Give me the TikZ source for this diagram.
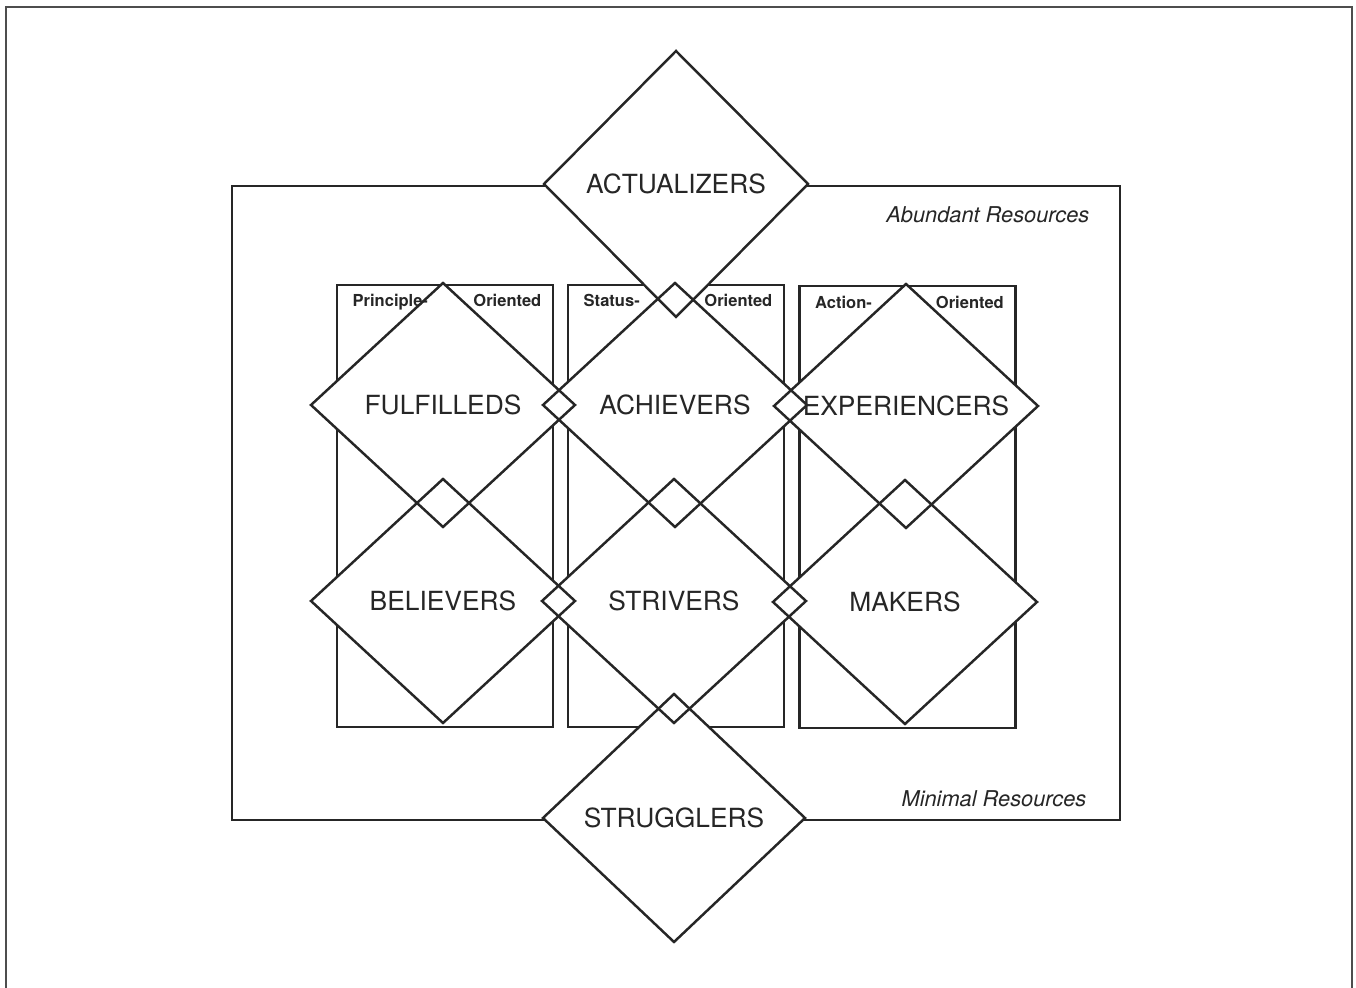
\documentclass[tikz,border=0pt]{standalone}
\usepackage{fontspec}
\setmainfont{TeX Gyre Heros}
\usetikzlibrary{shapes.geometric, positioning}
\definecolor{Ink}{HTML}{262626}
\definecolor{FrameGray}{HTML}{4D4D4D}
\tikzset{
  segment/.style={diamond, fill=white, inner sep=0pt, outer sep=0pt,
                  minimum width=2.64cm, minimum height=2.44cm, text=Ink,
                  font=\fontsize{7.5}{9}\selectfont},
  outline/.style={draw=Ink, line width=0.7pt, line join=miter},
  column/.style={draw=Ink, line width=0.6pt, inner sep=0pt, outer sep=0pt,
                 minimum width=2.16cm, minimum height=4.42cm},
  colnote/.style={text=Ink, inner sep=0pt, font=\fontsize{4.7}{5.5}\selectfont\bfseries},
  resnote/.style={text=Ink, inner sep=0pt, font=\fontsize{6.2}{7.5}\selectfont\itshape},
}
\begin{document}
\begin{tikzpicture}
\useasboundingbox (0,0) rectangle (13.56,-9.88);

% page frame, runs off the bottom edge
\draw[FrameGray, line width=0.6pt] (0.06,-10) |- (13.52,-0.07) -- (13.52,-10);

% resources box and the three orientation columns
\node[draw=Ink, line width=0.6pt, inner sep=0pt, outer sep=0pt,
      minimum width=8.88cm, minimum height=6.34cm] (resources) at (6.76,-5.03) {};
\node[column] (principle) at (4.45,-5.06) {};
\node[column] (status)    at (6.76,-5.06) {};
\node[column] (action)    at (9.075,-5.07) {};

% segments (white fill first, outlines afterwards so overlaps stay visible)
\node[segment, minimum height=2.66cm] (actualizers) at (6.76,-1.84) {ACTUALIZERS};
\node[segment] (fulfilleds)   at (4.43,-4.05) {FULFILLEDS};
\node[segment] (achievers)    at (6.75,-4.05) {ACHIEVERS};
\node[segment] (experiencers) at (9.06,-4.06) {EXPERIENCERS};
\node[segment] (believers)    at (4.43,-6.01) {BELIEVERS};
\node[segment] (strivers)     at (6.74,-6.01) {STRIVERS};
\node[segment] (makers)       at (9.05,-6.02) {MAKERS};
\node[segment, minimum width=2.62cm, minimum height=2.48cm] (strugglers) at (6.74,-8.18) {STRUGGLERS};

\foreach \n in {actualizers, fulfilleds, achievers, experiencers,
                believers, strivers, makers, strugglers}
  \draw[outline] (\n.north) -- (\n.east) -- (\n.south) -- (\n.west) -- cycle;

% column headings
\foreach \c/\word in {principle/Principle-, status/Status-, action/Action-} {
  \node[colnote, below right=0.09cm and 0.15cm of \c.north west] (\c-a) {\word};
  \node[colnote, below left=0.09cm and 0.11cm of \c.north east] (\c-b) {Oriented};
}

% resource labels
\node[resnote, below left=0.2cm and 0.3cm of resources.north east] (abundant) {Abundant Resources};
\node[resnote, above left=0.12cm and 0.33cm of resources.south east] (minimal) {Minimal Resources};
\end{tikzpicture}
\end{document}
